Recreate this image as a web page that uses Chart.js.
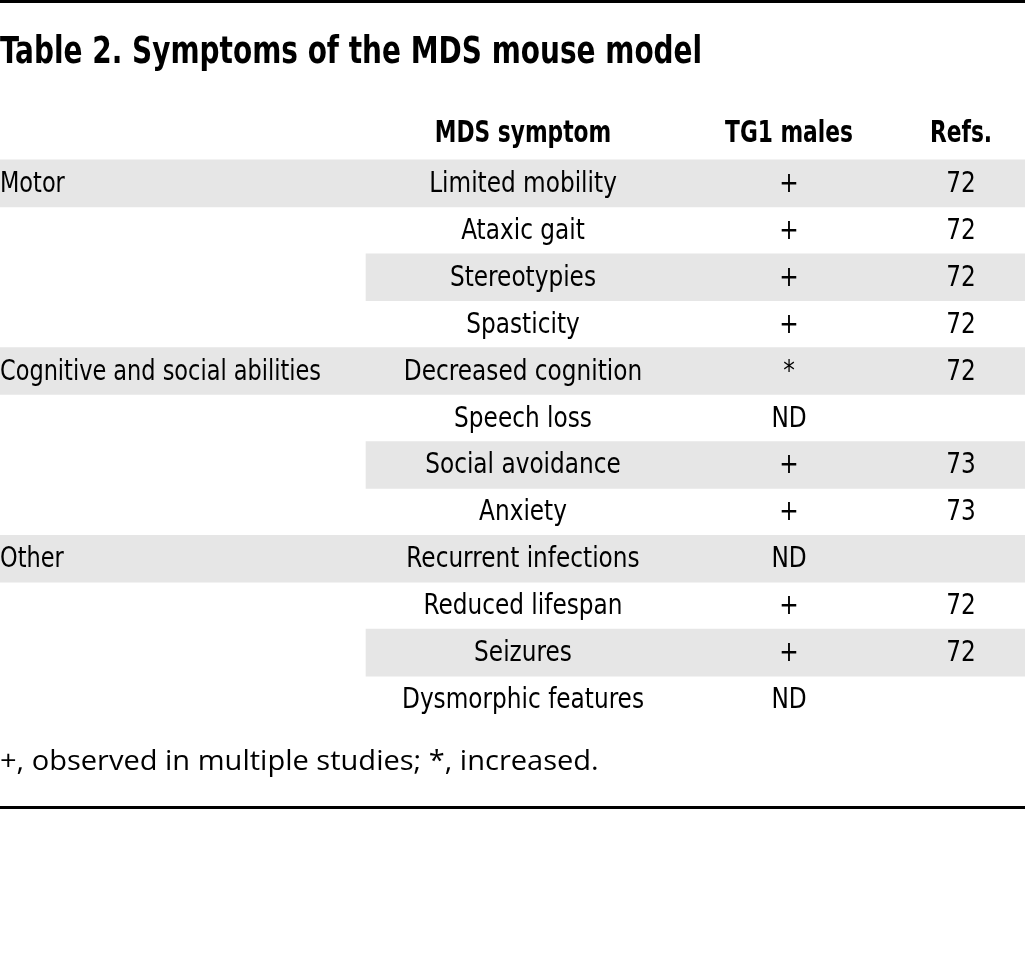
<!DOCTYPE html>
<html>
<head>
<meta charset="utf-8">
<script src="https://cdn.jsdelivr.net/npm/chart.js@4/dist/chart.umd.min.js"></script>
<style>
  body { margin: 0; background: #fff; }
  #wrap { width: 1025px; height: 958px; }
</style>
</head>
<body>
<div id="wrap"><canvas id="table-chart" width="1025" height="958"></canvas></div>
<script>
// table content
const headers = ['', 'MDS symptom', 'TG1 males', 'Refs.'];
const groups = ['Motor', '', '', '', 'Cognitive and social abilities', '', '', '', 'Other', '', '', ''];
const symptoms = ['Limited mobility', 'Ataxic gait', 'Stereotypies', 'Spasticity', 'Decreased cognition',
    'Speech loss', 'Social avoidance', 'Anxiety', 'Recurrent infections', 'Reduced lifespan',
    'Seizures', 'Dysmorphic features'];
const tg1 = ['+', '+', '+', '+', '*', 'ND', '+', '+', 'ND', '+', '+', 'ND'];
const refs = ['72', '72', '72', '72', '72', '', '73', '73', '', '72', '72', ''];
const title = 'Table 2. Symptoms of the MDS mouse model';
const footnote = '+, observed in multiple studies; *, increased.';

// layout (x scale units = px across the page)
const colX = [0, 523, 789, 961];
const subStart = 366;
const pageW = 1025;
const narrow = '"DejaVu Sans Condensed", "Liberation Sans Narrow", sans-serif';

const rowLabels = ['header'].concat(symptoms);
// striped rows: every other row shaded, full width when it opens a group
const shade = [null].concat(symptoms.map((s, i) => {
    if (i % 2 != 0) return null;
    return [groups[i] ? 0 : subStart, pageW];
}));

// the original type is narrower than anything installed, so squeeze it sideways
function squeezed(c, text, x, y, sx, align) {
    c.save();
    c.translate(x, y);
    c.scale(sx, 1);
    c.textAlign = align;
    c.fillText(text, 0, 0);
    c.restore();
}

const tablePlugin = {
    id: 'tableText',
    afterDatasetsDraw(chart) {
        const c = chart.ctx;
        const xs = chart.scales.x;
        const ys = chart.scales.y;
        c.save();
        c.fillStyle = '#000';
        c.textBaseline = 'middle';

        // header
        c.font = 'bold 31px ' + narrow;
        for (let k = 1; k < headers.length; k++) {
            squeezed(c, headers[k], xs.getPixelForValue(colX[k]), ys.getPixelForValue(0) - 3, 0.78, 'center');
        }

        c.font = '29px ' + narrow;
        symptoms.forEach((s, i) => {
            const y = ys.getPixelForValue(i + 1) + 1;
            if (groups[i]) {
                squeezed(c, groups[i], xs.getPixelForValue(colX[0]), y, 0.86, 'left');
            }
            squeezed(c, s, xs.getPixelForValue(colX[1]), y, 0.89, 'center');
            squeezed(c, tg1[i], xs.getPixelForValue(colX[2]), y, 0.89, 'center');
            squeezed(c, refs[i], xs.getPixelForValue(colX[3]), y, 0.89, 'center');
        });

        // title, rules and footnote
        c.font = 'bold 37px ' + narrow;
        squeezed(c, title, 0, 53, 0.84, 'left');
        c.font = '27px "Open Sans", sans-serif';
        squeezed(c, footnote, 0, 762, 598 / 556, 'left');
        c.fillRect(0, 0, pageW, 3);
        c.fillRect(0, 806, pageW, 3);
        c.restore();
    }
};

const tableChart = new Chart(document.getElementById('table-chart'), {
    type: 'bar',
    data: {
        labels: rowLabels,
        datasets: [{
            data: shade,
            backgroundColor: 'rgb(230, 230, 230)',
            borderWidth: 0,
            barPercentage: 1,
            categoryPercentage: 1
        }]
    },
    options: {
        indexAxis: 'y',
        responsive: false,
        animation: false,
        layout: { padding: { top: 113, bottom: 235, left: 0, right: 0 } },
        plugins: {
            legend: { display: false },
            tooltip: { enabled: false }
        },
        scales: {
            x: { type: 'linear', min: 0, max: pageW, display: false },
            y: { display: false }
        }
    },
    plugins: [tablePlugin]
});
</script>
</body>
</html>
